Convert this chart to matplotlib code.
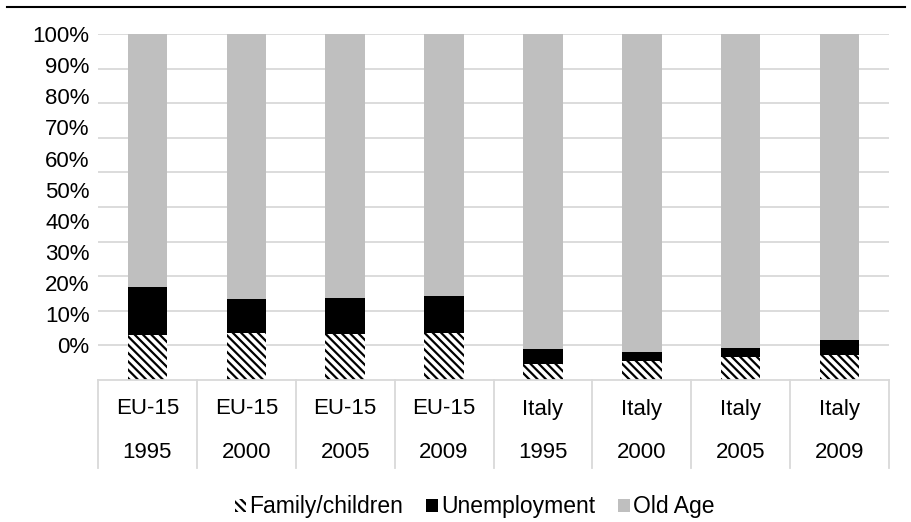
import matplotlib
matplotlib.use('Agg')

import matplotlib.pyplot as plt
import numpy as np

plt.rcParams['font.family'] = ['Liberation Sans', 'DejaVu Sans']
plt.rcParams['hatch.linewidth'] = 1.6

regions = ['EU-15', 'EU-15', 'EU-15', 'EU-15', 'Italy', 'Italy', 'Italy', 'Italy']
years = ['1995', '2000', '2005', '2009', '1995', '2000', '2005', '2009']

# shares in percent
family = [13.0, 13.7, 13.3, 13.5, 4.6, 5.5, 6.6, 7.2]
unemployment = [13.8, 9.8, 10.4, 10.8, 4.3, 2.5, 2.7, 4.4]
old_age = [100 - f - u for f, u in zip(family, unemployment)]

ytick_labels = ['0%', '10%', '20%', '30%', '40%', '50%', '60%', '70%', '80%', '90%', '100%']

W, H = 911, 522
fig = plt.figure(figsize=(W / 100, H / 100), dpi=100)
ax = fig.add_axes([98 / W, 1 - 380 / H, (889 - 98) / W, (380 - 34) / H])

x = np.arange(len(regions))
fam = np.array(family) / 100
une = np.array(unemployment) / 100
old = np.array(old_age) / 100

grid_color = '#d9d9d9'
for g in np.arange(1, 11) / 10:
    ax.axhline(g, color=grid_color, lw=1.3, zorder=0)

bw = 0.4
ax.bar(x, fam, bw, color='white', edgecolor='black', hatch='\\\\\\\\', lw=0, label='Family/children', zorder=2)
ax.bar(x, une, bw, bottom=fam, color='black', lw=0, label='Unemployment', zorder=2)
ax.bar(x, old, bw, bottom=fam + une, color='#bfbfbf', lw=0, label='Old Age', zorder=2)

ax.set_xlim(-0.5, len(regions) - 0.5)
ax.set_ylim(0, 1)
for s in ax.spines.values():
    s.set_visible(False)

# y labels are spread over the gridlines from 10% up to 100%
ax.set_yticks(0.1 + 0.9 * np.arange(11) / 10)
ax.set_yticklabels(ytick_labels, fontsize=16)
ax.tick_params(axis='y', length=0, pad=6)
ax.set_xticks([])

# category table under the plot
tb = -(468 - 380) / 346
ax.plot([-0.5, len(regions) - 0.5], [0, 0], color=grid_color, lw=1.3, clip_on=False)
for i in range(len(regions) + 1):
    ax.plot([i - 0.5, i - 0.5], [0, tb], color=grid_color, lw=1.3, clip_on=False)
for i in range(len(regions)):
    ax.text(i, -(409 - 380) / 346, regions[i], ha='center', va='center', fontsize=16)
    ax.text(i, -(453 - 380) / 346, years[i], ha='center', va='center', fontsize=16)

# top rule
fig.add_artist(plt.Line2D([7 / W, 905 / W], [1 - 7 / H, 1 - 7 / H], color='black', lw=1.5))

fig.legend(loc='center', bbox_to_anchor=(0.521, 1 - 507 / H), ncol=3, frameon=False,
           fontsize=16.5, handlelength=0.5, handleheight=0.5, handletextpad=0.15,
           columnspacing=1.0)

plt.savefig('out.png', dpi=100)
